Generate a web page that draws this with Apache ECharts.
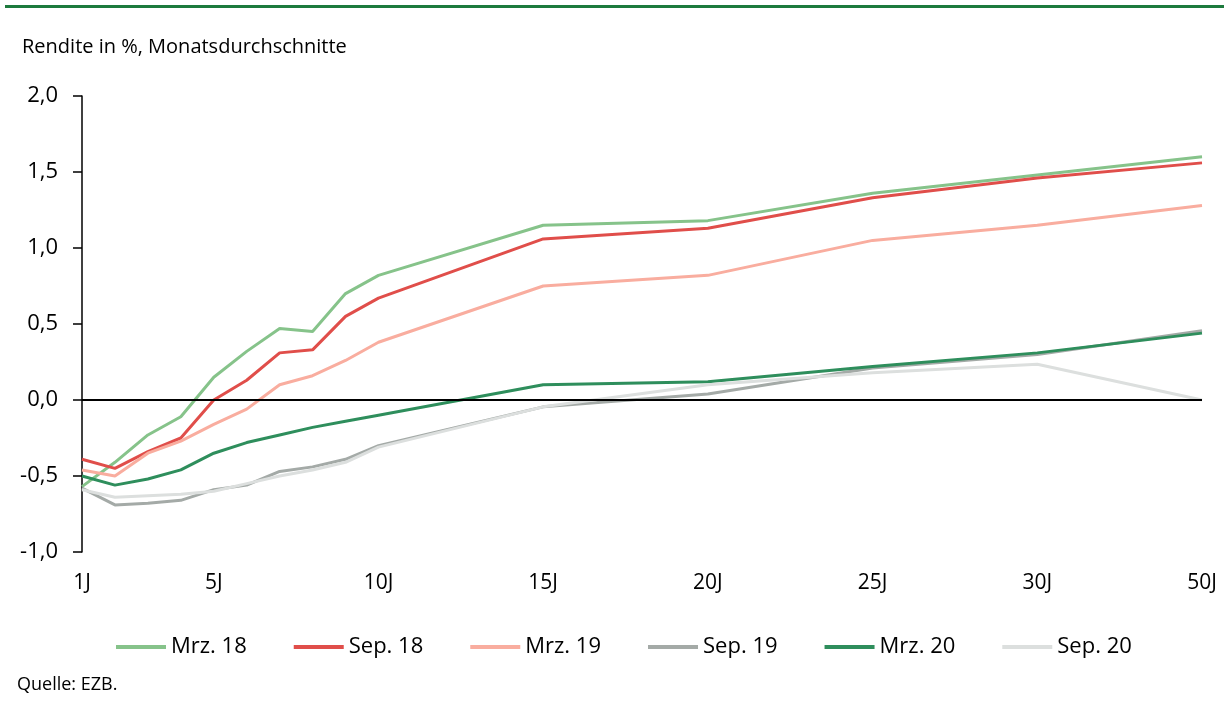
<!DOCTYPE html>
<html>
<head>
<meta charset="utf-8">
<script src="https://cdn.jsdelivr.net/npm/echarts@6/dist/echarts.min.js"></script>
<style>
  html, body { margin: 0; padding: 0; background: #fff; }
  #chart { width: 1224px; height: 709px; }
</style>
</head>
<body>
<div id="chart"></div>
<script>
// Laufzeiten in Jahren
const maturities = [1, 2, 3, 4, 5, 6, 7, 8, 9, 10, 15, 20, 25, 30, 50]
const tickMaturities = [1, 5, 10, 15, 20, 25, 30, 50]

const seriesNames = ['Mrz. 18', 'Sep. 18', 'Mrz. 19', 'Sep. 19', 'Mrz. 20', 'Sep. 20']
const seriesColors = ['#86c38a', '#e04e4a', '#f9ad9f', '#a4aaa7', '#2e8e5c', '#dcdfde']

const mrz18 = [-0.57, -0.41, -0.23, -0.11, 0.15, 0.32, 0.47, 0.45, 0.70, 0.82, 1.15, 1.18, 1.36, 1.48, 1.60]
const sep18 = [-0.39, -0.45, -0.34, -0.25, 0.00, 0.13, 0.31, 0.33, 0.55, 0.67, 1.06, 1.13, 1.33, 1.46, 1.56]
const mrz19 = [-0.46, -0.50, -0.35, -0.27, -0.16, -0.06, 0.10, 0.16, 0.26, 0.38, 0.75, 0.82, 1.05, 1.15, 1.28]
const sep19 = [-0.58, -0.69, -0.68, -0.66, -0.59, -0.56, -0.47, -0.44, -0.39, -0.30, -0.045, 0.04, 0.21, 0.30, 0.455]
const mrz20 = [-0.50, -0.56, -0.52, -0.46, -0.35, -0.28, -0.23, -0.18, -0.14, -0.10, 0.10, 0.12, 0.22, 0.31, 0.44]
const sep20 = [-0.59, -0.64, -0.63, -0.62, -0.60, -0.55, -0.50, -0.46, -0.41, -0.31, -0.045, 0.10, 0.18, 0.235, 0.00]

const seriesValues = [mrz18, sep18, mrz19, sep19, mrz20, sep20]

// Achse ist bis 30J linear, 50J sitzt eine 5er-Stufe weiter
const axisPos = m => (m <= 30 ? m : 35)
const posToLabel = {}
tickMaturities.forEach(m => { posToLabel[axisPos(m)] = m + 'J' })

const FONT = "'Open Sans', 'Noto Sans', sans-serif"

const chart = echarts.init(document.getElementById('chart'))

const lineSeries = seriesNames.map((name, i) => ({
  name: name,
  type: 'line',
  z: 3,
  symbol: 'none',
  lineStyle: { width: 3, color: seriesColors[i] },
  itemStyle: { color: seriesColors[i] },
  data: maturities.map((m, j) => [axisPos(m), seriesValues[i][j]])
}))

const option = {
  animation: false,
  textStyle: { fontFamily: FONT },
  title: {
    text: 'Rendite in %, Monatsdurchschnitte',
    left: 17,
    top: 32,
    textStyle: { fontFamily: FONT, fontSize: 20, fontWeight: 'normal', color: '#000' }
  },
  graphic: [
    { type: 'rect', left: 5, top: 5, shape: { width: 1219, height: 3 }, style: { fill: '#1d7a3d' } },
    {
      type: 'text', left: 17, top: 676,
      style: { text: 'Quelle: EZB.', fontFamily: FONT, fontSize: 18, fill: '#000' }
    }
  ],
  legend: {
    data: seriesNames,
    left: 111,
    top: 631,
    icon: 'rect',
    itemWidth: 50,
    itemHeight: 4,
    itemGap: 47,
    textStyle: { fontFamily: FONT, fontSize: 22, color: '#000' }
  },
  grid: { left: 82, right: 22, top: 96, bottom: 157, containLabel: false },
  xAxis: {
    type: 'value',
    min: 1,
    max: 35,
    axisLine: { show: false },
    axisTick: { show: false },
    splitLine: { show: false },
    axisLabel: {
      customValues: tickMaturities.map(axisPos),
      formatter: v => posToLabel[v] || '',
      margin: 21,
      fontFamily: FONT,
      fontSize: 21,
      color: '#000'
    }
  },
  yAxis: {
    type: 'value',
    min: -1,
    max: 2,
    interval: 0.5,
    axisLine: { show: true, lineStyle: { color: '#000', width: 1.5 } },
    axisTick: { show: true, length: 9, lineStyle: { color: '#000', width: 1.5 } },
    splitLine: { show: false },
    axisLabel: {
      formatter: v => v.toFixed(1).replace('.', ','),
      margin: 24,
      fontFamily: FONT,
      fontSize: 22,
      color: '#000'
    }
  },
  series: [
    {
      name: 'zero',
      type: 'line',
      z: 1,
      data: [],
      markLine: {
        silent: true,
        symbol: 'none',
        label: { show: false },
        lineStyle: { color: '#000', width: 2, type: 'solid' },
        data: [{ yAxis: 0 }]
      }
    }
  ].concat(lineSeries)
}

chart.setOption(option)
</script>
</body>
</html>
